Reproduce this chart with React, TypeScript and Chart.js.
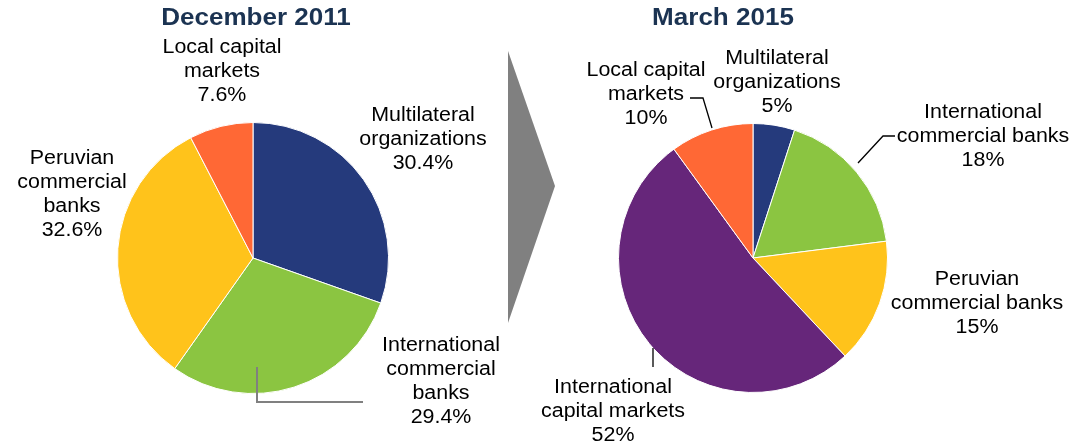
import React, { useEffect, useRef } from "react";
import { Chart, registerables } from "chart.js";

Chart.register(...registerables);

// ---------- DATA ----------
const leftTitle = "December 2011";
const rightTitle = "March 2015";

const leftCategories = [
  "Multilateral organizations",
  "International commercial banks",
  "Peruvian commercial banks",
  "Local capital markets",
];
const leftValues = [30.4, 29.4, 32.6, 7.6];
const leftValueLabels = ["30.4%", "29.4%", "32.6%", "7.6%"];
const leftLabelLines = [
  ["Multilateral", "organizations"],
  ["International", "commercial", "banks"],
  ["Peruvian", "commercial", "banks"],
  ["Local capital", "markets"],
];

const rightCategories = [
  "Multilateral organizations",
  "International commercial banks",
  "Peruvian commercial banks",
  "International capital markets",
  "Local capital markets",
];
const rightValues = [5, 18, 15, 52, 10];
const rightValueLabels = ["5%", "18%", "15%", "52%", "10%"];
const rightLabelLines = [
  ["Multilateral", "organizations"],
  ["International", "commercial banks"],
  ["Peruvian", "commercial banks"],
  ["International", "capital markets"],
  ["Local capital", "markets"],
];

// ---------- STYLE ----------
const NAVY = "#253A7C";
const GREEN = "#8BC541";
const YELLOW = "#FFC31B";
const ORANGE = "#FF6835";
const PURPLE = "#66267A";
const leftColors = [NAVY, GREEN, YELLOW, ORANGE];
const rightColors = [NAVY, GREEN, YELLOW, PURPLE, ORANGE];

const TITLE_COLOR = "#1B3352";
const FONT = "'Liberation Sans', Arial, sans-serif";
const LABEL_SIZE = 20;
const LABEL_SX = 1.07;
const TITLE_SIZE = 24;
const TITLE_SX = 1.085;
const LINE_H = 24.3;

// label first-line centre offsets relative to pie centre
const leftLabelPos = [
  [170, -143],
  [188, 87],
  [-181, -100],
  [-31, -211],
];
const rightLabelPos = [
  [24, -200],
  [230, -146],
  [224, 21],
  [-140, 129],
  [-107, -188],
];
const leftLeaders = [
  { color: "#808080", width: 2, pts: [[4, 109], [4, 144], [110, 144]] },
];
const rightLeaders = [
  { color: "#000000", width: 1.3, pts: [[-63, -160], [-50, -160], [-41, -130]] },
  { color: "#000000", width: 1.3, pts: [[142, -122], [130, -122], [105, -95]] },
  { color: "#000000", width: 1.3, pts: [[-100, 90], [-100, 109]] },
];

function drawText(ctx: CanvasRenderingContext2D, t: string, x: number, y: number, sx: number) {
  ctx.save();
  ctx.translate(x, y);
  ctx.scale(sx, 1);
  ctx.fillText(t, 0, 0);
  ctx.restore();
}

const decorPlugin = {
  id: "decor",
  afterDraw(chart: any, _args: any, opts: any) {
    const ctx = chart.ctx as CanvasRenderingContext2D;
    const arc = chart.getDatasetMeta(0).data[0] as any;
    const cx = arc.x;
    const cy = arc.y;
    ctx.save();
    // arrow
    if (opts.arrow) {
      ctx.fillStyle = "#808080";
      ctx.beginPath();
      opts.arrow.forEach((p: number[], i: number) => {
        const x = p[0] - opts.offsetX;
        if (i === 0) ctx.moveTo(x, p[1]);
        else ctx.lineTo(x, p[1]);
      });
      ctx.closePath();
      ctx.fill();
    }
    // title
    ctx.fillStyle = TITLE_COLOR;
    ctx.font = `bold ${TITLE_SIZE}px ${FONT}`;
    ctx.textAlign = "center";
    ctx.textBaseline = "middle";
    drawText(ctx, opts.title, cx + opts.titleDx, opts.titleY, TITLE_SX);
    // leaders
    (opts.leaders || []).forEach((l: any) => {
      ctx.strokeStyle = l.color;
      ctx.lineWidth = l.width;
      ctx.beginPath();
      l.pts.forEach((p: number[], i: number) => {
        if (i === 0) ctx.moveTo(cx + p[0], cy + p[1]);
        else ctx.lineTo(cx + p[0], cy + p[1]);
      });
      ctx.stroke();
    });
    // labels
    ctx.fillStyle = "#000000";
    ctx.font = `${LABEL_SIZE}px ${FONT}`;
    const lines: string[][] = opts.lines;
    lines.forEach((ls, i) => {
      const all = [...ls, opts.values[i]];
      const [dx, dy] = opts.pos[i];
      all.forEach((t, j) => {
        drawText(ctx, t, cx + dx, cy + dy + j * LINE_H, LABEL_SX);
      });
    });
    ctx.restore();
  },
};

function makeChart(
  canvas: HTMLCanvasElement,
  labels: string[],
  values: number[],
  colors: string[],
  padding: any,
  decor: any
) {
  return new Chart(canvas, {
    type: "pie",
    data: {
      labels,
      datasets: [
        {
          data: values,
          backgroundColor: colors,
          borderColor: "#ffffff",
          borderWidth: 1,
        },
      ],
    },
    options: {
      animation: false,
      responsive: false,
      devicePixelRatio: 1,
      layout: { padding },
      plugins: {
        legend: { display: false },
        tooltip: { enabled: false },
        decor,
      } as any,
    },
    plugins: [decorPlugin],
  });
}

export default function App() {
  const leftRef = useRef<HTMLCanvasElement>(null);
  const rightRef = useRef<HTMLCanvasElement>(null);

  useEffect(() => {
    document.body.style.margin = "0";
    const l = makeChart(
      leftRef.current!,
      leftCategories,
      leftValues,
      leftColors,
      { left: 117, right: 117, top: 122, bottom: 52 },
      {
        title: leftTitle,
        titleDx: 3,
        titleY: 18,
        lines: leftLabelLines,
        values: leftValueLabels,
        pos: leftLabelPos,
        leaders: leftLeaders,
        offsetX: 0,
      }
    );
    const r = makeChart(
      rightRef.current!,
      rightCategories,
      rightValues,
      rightColors,
      { left: 112, right: 185, top: 123, bottom: 53 },
      {
        title: rightTitle,
        titleDx: -30,
        titleY: 18,
        lines: rightLabelLines,
        values: rightValueLabels,
        pos: rightLabelPos,
        leaders: rightLeaders,
        offsetX: 506,
        arrow: [
          [508, 51],
          [555, 186],
          [508, 323],
        ],
      }
    );
    return () => {
      l.destroy();
      r.destroy();
    };
  }, []);

  return (
    <div style={{ position: "relative", width: 1073, height: 446, background: "#fff" }}>
      <canvas
        ref={leftRef}
        width={506}
        height={446}
        style={{ position: "absolute", left: 0, top: 0, width: 506, height: 446 }}
      />
      <canvas
        ref={rightRef}
        width={567}
        height={446}
        style={{ position: "absolute", left: 506, top: 0, width: 567, height: 446 }}
      />
    </div>
  );
}
